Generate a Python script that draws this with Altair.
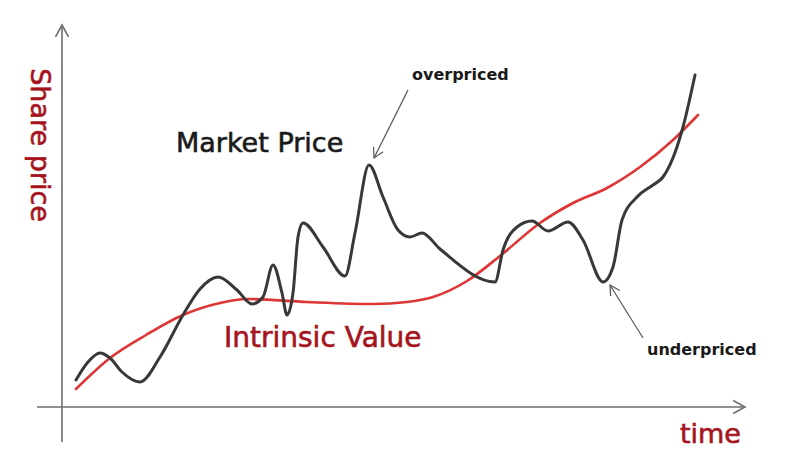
import math
import altair as alt
import pandas as pd

# Market price (black): time, price units
market_time = [14, 26, 38, 48, 60, 78, 98, 121, 138, 156, 175, 190, 201, 211, 220, 225, 231, 236, 241,
               261, 283, 293, 307, 321, 336, 348, 360, 378, 433, 441, 455, 470, 486, 506, 521, 541,
               551, 560, 575, 591, 601, 615, 621, 633]
market_price = [27, 45, 54, 49, 35, 25, 50, 92, 118, 130, 117, 103, 110, 142, 114, 92, 114, 170, 184,
                160, 131, 174, 242, 210, 177, 170, 174, 158, 125, 157, 180, 186, 176, 185, 167, 125,
                140, 187, 210, 222, 230, 260, 280, 332]

# Intrinsic value (red)
value_time = [14, 48, 84, 121, 158, 185, 245, 311, 345, 371, 405, 438, 478, 511, 545, 578, 611, 636]
value_price = [18, 49, 72, 92, 104, 108, 105, 103, 105, 110, 126, 151, 184, 204, 219, 240, 267, 292]

# Axes (arrows)
axis_t = [0, -25]
axis_p = [-35, 0]
axis_t2 = [0, 683]
axis_p2 = [382, 0]

# Annotation arrows: tail -> tip
ann_tail_t = [346, 581]
ann_tail_p = [317, 69]
ann_tip_t = [312, 548]
ann_tip_p = [249, 122]

# Labels
big_text = ["Market Price", "Intrinsic Value"]
big_t = [114, 162]
big_p = [255, 60]
big_size = [27, 28]
small_text = ["overpriced", "underpriced"]
small_t = [350, 585]
small_p = [327, 52]

W, H = 784, 450
XD = [-54, 730]
YD = [-51, 399]

xs = alt.Scale(domain=XD, nice=False, zero=False)
ys = alt.Scale(domain=YD, nice=False, zero=False)

def X(f="t"):
    return alt.X(f"{f}:Q", scale=xs, axis=None)

def Y(f="p"):
    return alt.Y(f"{f}:Q", scale=ys, axis=None)

AXIS_COL = "#6e6e6e"
RED_TXT = "#a5141d"
FONT = "DejaVu Sans"

axes_df = pd.DataFrame({"t": axis_t, "p": axis_p, "t2": axis_t2, "p2": axis_p2})
axes = alt.Chart(axes_df).mark_rule(color=AXIS_COL, strokeWidth=1.6).encode(
    x=X(), y=Y(), x2="t2:Q", y2="p2:Q")

head_path = "M -0.55 1 L 0 0 L 0.55 1"
heads_df = pd.DataFrame({"t": [axis_t2[0], axis_t2[1]], "p": [axis_p2[0], axis_p2[1]], "angle": [0, 90]})
axis_heads = alt.Chart(heads_df).mark_point(shape=head_path, filled=False, color=AXIS_COL,
                                            strokeWidth=1.6, size=560, opacity=1).encode(
    x=X(), y=Y(), angle=alt.Angle("angle:Q", scale=None))

ann_df = pd.DataFrame({"t": ann_tail_t, "p": ann_tail_p, "t2": ann_tip_t, "p2": ann_tip_p})
ann_df["angle"] = [
    (math.degrees(math.atan2(a2 - a1, b2 - b1)) + 360) % 360
    for a1, b1, a2, b2 in zip(ann_tail_t, ann_tail_p, ann_tip_t, ann_tip_p)
]
ann_lines = alt.Chart(ann_df).mark_rule(color="#555555", strokeWidth=1.2).encode(
    x=X(), y=Y(), x2="t2:Q", y2="p2:Q")
ann_heads = alt.Chart(ann_df).mark_point(shape=head_path, filled=False, color="#555555",
                                         strokeWidth=1.2, size=380, opacity=1).encode(
    x=X("t2"), y=Y("p2"), angle=alt.Angle("angle:Q", scale=None))

value_df = pd.DataFrame({"t": value_time, "p": value_price})
value_line = alt.Chart(value_df).mark_line(color="#de3535", strokeWidth=2.6,
                                           interpolate="monotone", strokeCap="round").encode(
    x=X(), y=Y())

market_df = pd.DataFrame({"t": market_time, "p": market_price})
market_line = alt.Chart(market_df).mark_line(color="#383838", strokeWidth=3,
                                             interpolate="monotone", strokeCap="round",
                                             strokeJoin="round").encode(
    x=X(), y=Y())

big_df = pd.DataFrame({"text": big_text, "t": big_t, "p": big_p, "size": big_size,
                       "color": ["#1a1a1a", RED_TXT]})
big = alt.Chart(big_df).mark_text(align="left", baseline="alphabetic",
                                  font=FONT, strokeWidth=0.6).encode(
    x=X(), y=Y(), text="text:N",
    size=alt.Size("size:Q", scale=None, legend=None),
    color=alt.Color("color:N", scale=None),
    stroke=alt.Stroke("color:N", scale=None))

small_df = pd.DataFrame({"text": small_text, "t": small_t, "p": small_p})
small = alt.Chart(small_df).mark_text(align="left", baseline="alphabetic", color="#1a1a1a",
                                      font=FONT, fontSize=16, fontWeight="bold").encode(
    x=X(), y=Y(), text="text:N")

ytitle = alt.Chart(pd.DataFrame({"text": ["Share price"], "t": [-23], "p": [262]})).mark_text(
    align="center", baseline="middle", angle=90, font=FONT, fontSize=27, color=RED_TXT,
    stroke=RED_TXT, strokeWidth=0.6).encode(
    x=X(), y=Y(), text="text:N")
xtitle = alt.Chart(pd.DataFrame({"text": ["time"], "t": [679], "p": [-36]})).mark_text(
    align="right", baseline="alphabetic", font=FONT, fontSize=27, color=RED_TXT,
    stroke=RED_TXT, strokeWidth=0.6).encode(
    x=X(), y=Y(), text="text:N")

chart = alt.layer(axes, axis_heads, value_line, market_line, ann_lines, ann_heads,
                  big, small, ytitle, xtitle).properties(
    width=W, height=H, padding=0, autosize=alt.AutoSizeParams(type="none"),
    background="white"
).configure_view(stroke=None)

chart.save("out.html", embed_options={"renderer": "svg", "actions": False})
